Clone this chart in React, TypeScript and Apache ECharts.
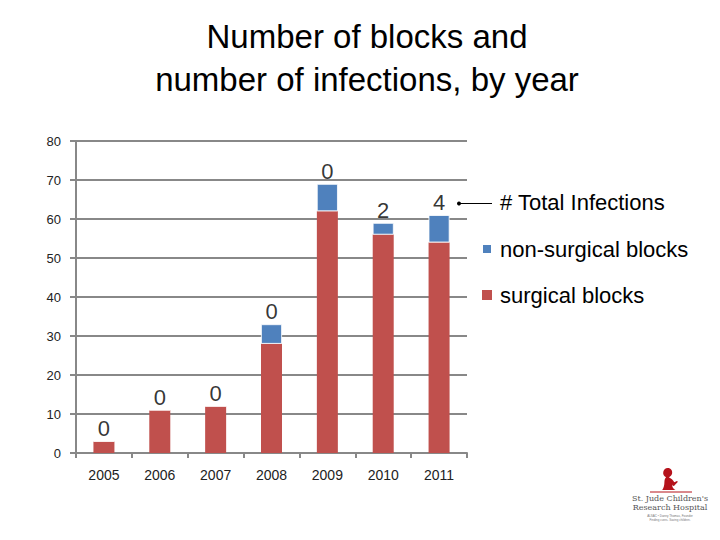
import React, { useEffect, useRef } from "react";
import * as echarts from "echarts";

const years = ["2005", "2006", "2007", "2008", "2009", "2010", "2011"];
const surgical = [3, 11, 12, 28, 62, 56, 54];
const nonSurgical = [0, 0, 0, 5, 7, 3, 7];
const infections = [0, 0, 0, 0, 0, 2, 4];
const totals = surgical.map((v, i) => v + nonSurgical[i]);

const FONT = "'Liberation Sans', Arial, sans-serif";

let shapeRegistered = false;
function registerLogo() {
  if (shapeRegistered) return;
  shapeRegistered = true;
  const d =
    "M14 0 C20 0 23 5 22 10 C21 14 18 16 16 17 C20 19 24 22 26 26 L30 24 C32 23 33 25 31 27 L27 31 C26 33 24 33 23 32 L22 30 C22 34 24 38 28 40 L4 40 C7 36 8 31 8 26 C8 22 9 19 11 17 C7 15 5 11 6 7 C7 3 10 0 14 0 Z";
  echarts.graphic.registerShape(
    "logo",
    echarts.graphic.extendPath(d, {}) as any
  );
}

export default function App() {
  const ref = useRef<HTMLDivElement>(null);
  useEffect(() => {
    if (!ref.current) return;
    registerLogo();
    const chart = echarts.init(ref.current, undefined, { renderer: "svg" });
    chart.setOption({
      animation: false,
      backgroundColor: "#ffffff",
      textStyle: { fontFamily: FONT },
      title: {
        text: "Number of blocks and\nnumber of infections, by year",
        left: 362,
        top: 10,
        textAlign: "center",
        textStyle: {
          fontFamily: FONT,
          fontSize: 33,
          lineHeight: 43,
          fontWeight: "normal",
          color: "#000",
        },
      },
      grid: { left: 76, right: 253, top: 141, bottom: 87, containLabel: false },
      legend: {
        data: ["non-surgical blocks", "surgical blocks"],
        orient: "vertical",
        left: 476,
        top: 233,
        itemWidth: 10,
        itemHeight: 10,
        itemGap: 24,
        icon: "rect",
        textStyle: { fontFamily: FONT, fontSize: 22, color: "#000", padding: [0, 0, 0, 3] },
      },
      xAxis: {
        type: "category",
        data: years,
        axisLine: { lineStyle: { color: "#888", width: 2 } },
        axisTick: { show: true, length: 5, alignWithLabel: false, lineStyle: { color: "#888", width: 2 } },
        axisLabel: { margin: 15, fontSize: 14, color: "#222", fontFamily: FONT },
      },
      yAxis: {
        type: "value",
        min: 0,
        max: 80,
        interval: 10,
        axisLine: { show: true, lineStyle: { color: "#888", width: 2 } },
        axisTick: { show: true, length: 6, lineStyle: { color: "#888", width: 2 } },
        axisLabel: { margin: 15, fontSize: 13, color: "#222", fontFamily: FONT },
        splitLine: { lineStyle: { color: "#888", width: 2 } },
      },
      series: [
        {
          name: "surgical blocks",
          type: "bar",
          stack: "blocks",
          data: surgical,
          barWidth: 21,
          itemStyle: { color: "#C0504D" },
        },
        {
          name: "non-surgical blocks",
          type: "bar",
          stack: "blocks",
          data: nonSurgical,
          barWidth: 21,
          itemStyle: { color: "#4F81BD", borderColor: "#ffffff", borderWidth: 0.8 },
        },
        {
          name: "# Total Infections",
          type: "scatter",
          data: totals,
          symbol: "circle",
          symbolSize: 1,
          itemStyle: { color: "rgba(0,0,0,0)" },
          silent: true,
          z: 5,
          label: {
            show: true,
            position: "top",
            distance: 1,
            fontSize: 22,
            color: "#000",
            fontFamily: FONT,
            formatter: (p: any) => String(infections[p.dataIndex]),
          },
        },
      ],
      graphic: [
        {
          type: "text",
          left: 500,
          top: 191,
          style: { text: "# Total Infections", fontSize: 22, fontFamily: FONT, fill: "#000" },
        },
        {
          type: "line",
          shape: { x1: 459, y1: 203.5, x2: 492, y2: 203.5 },
          style: { stroke: "#000", lineWidth: 1 },
        },
        {
          type: "circle",
          shape: { cx: 459, cy: 203.5, r: 2 },
          style: { fill: "#000" },
        },
        {
          type: "logo",
          x: 660,
          y: 468,
          scaleX: 0.55,
          scaleY: 0.55,
          style: { fill: "#B5121B" },
        },
        {
          type: "line",
          shape: { x1: 650, y1: 492, x2: 692, y2: 492 },
          style: { stroke: "#B5121B", lineWidth: 1 },
        },
        {
          type: "text",
          x: 670,
          y: 494,
          style: {
            text: "St. Jude Children's\nResearch Hospital",
            fontSize: 8,
            lineHeight: 9,
            fontFamily: "'DejaVu Serif', serif",
            fill: "#555",
            align: "center",
          },
        },
        {
          type: "text",
          x: 670,
          y: 514,
          style: {
            text: "ALSAC • Danny Thomas, Founder\nFinding cures. Saving children.",
            fontSize: 3,
            lineHeight: 4,
            fontFamily: FONT,
            fill: "#777",
            align: "center",
          },
        },
      ],
    });
    return () => chart.dispose();
  }, []);
  return (
    <div
      ref={ref}
      style={{ position: "absolute", left: 0, top: 0, width: 720, height: 540 }}
    />
  );
}
